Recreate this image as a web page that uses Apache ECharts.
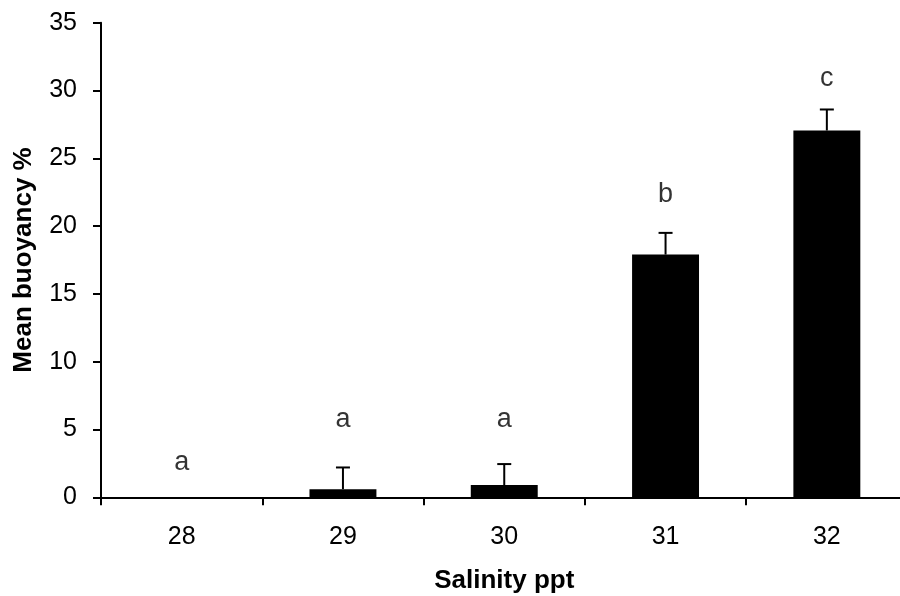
<!DOCTYPE html>
<html>
<head>
<meta charset="utf-8">
<script src="https://cdn.jsdelivr.net/npm/echarts@6/dist/echarts.min.js"></script>
<style>
html,body{margin:0;padding:0;background:#fff;}
#c{width:900px;height:596px;}
</style>
</head>
<body>
<div id="c"></div>
<script>
var categories = ['28', '29', '30', '31', '32'];
var meanBuoyancy = [0, 0.6, 0.9, 17.9, 27.05];
var errorSE = [0, 1.6, 1.55, 1.6, 1.55];
var letters = ['a', 'a', 'a', 'b', 'c'];
var letterY = [2.55, 5.7, 5.7, 22.35, 30.87];
var yTicks = { min: 0, max: 35, interval: 5 };

var FONT = '"Liberation Sans", Arial, sans-serif';

var errData = [];
for (var i = 0; i < categories.length; i++) {
  if (errorSE[i] > 0) errData.push([i, meanBuoyancy[i], meanBuoyancy[i] + errorSE[i]]);
}
var letterData = letters.map(function (l, i) { return [i, letterY[i], l]; });

var chart = echarts.init(document.getElementById('c'), null, { renderer: 'canvas' });
chart.setOption({
  backgroundColor: '#fff',
  animation: false,
  grid: { left: 101, top: 22.7, width: 806.5, height: 474.6, containLabel: false, outerBoundsMode: 'none' },
  xAxis: {
    type: 'category',
    data: categories,
    boundaryGap: true,
    name: 'Salinity ppt',
    nameLocation: 'middle',
    nameGap: 71,
    nameTextStyle: { fontFamily: FONT, fontSize: 26, fontWeight: 'bold', color: '#000' },
    axisLine: { lineStyle: { color: '#000', width: 2 } },
    axisTick: { show: true, alignWithLabel: false, length: 8, lineStyle: { color: '#000', width: 2 } },
    axisLabel: { margin: 27, fontFamily: FONT, fontSize: 25, color: '#000' },
    splitLine: { show: false }
  },
  yAxis: {
    type: 'value',
    min: yTicks.min, max: yTicks.max, interval: yTicks.interval,
    name: 'Mean buoyancy %',
    nameLocation: 'middle',
    nameGap: 64,
    nameRotate: 90,
    nameTextStyle: { fontFamily: FONT, fontSize: 26, fontWeight: 'bold', color: '#000' },
    axisLine: { show: true, lineStyle: { color: '#000', width: 2 } },
    axisTick: { show: true, length: 8, lineStyle: { color: '#000', width: 2 } },
    axisLabel: { margin: 24, fontFamily: FONT, fontSize: 25, color: '#000' },
    splitLine: { show: false }
  },
  series: [
    {
      type: 'bar',
      data: meanBuoyancy,
      barWidth: '41.5%',
      itemStyle: { color: '#000' },
      z: 2
    },
    {
      type: 'custom',
      data: errData,
      z: 3,
      renderItem: function (params, api) {
        var x = api.value(0), lo = api.value(1), hi = api.value(2);
        var p1 = api.coord([x, lo]);
        var p2 = api.coord([x, hi]);
        var cap = 7;
        return {
          type: 'group',
          children: [
            { type: 'line', shape: { x1: p1[0], y1: p1[1], x2: p2[0], y2: p2[1] }, style: { stroke: '#000', lineWidth: 2 } },
            { type: 'line', shape: { x1: p2[0] - cap, y1: p2[1], x2: p2[0] + cap, y2: p2[1] }, style: { stroke: '#000', lineWidth: 2 } }
          ]
        };
      }
    },
    {
      type: 'scatter',
      data: letterData,
      symbolSize: 0,
      z: 4,
      label: {
        show: true,
        position: 'inside',
        formatter: function (p) { return p.data[2]; },
        fontFamily: FONT,
        fontSize: 27,
        color: '#000'
      }
    }
  ]
});
</script>
</body>
</html>
